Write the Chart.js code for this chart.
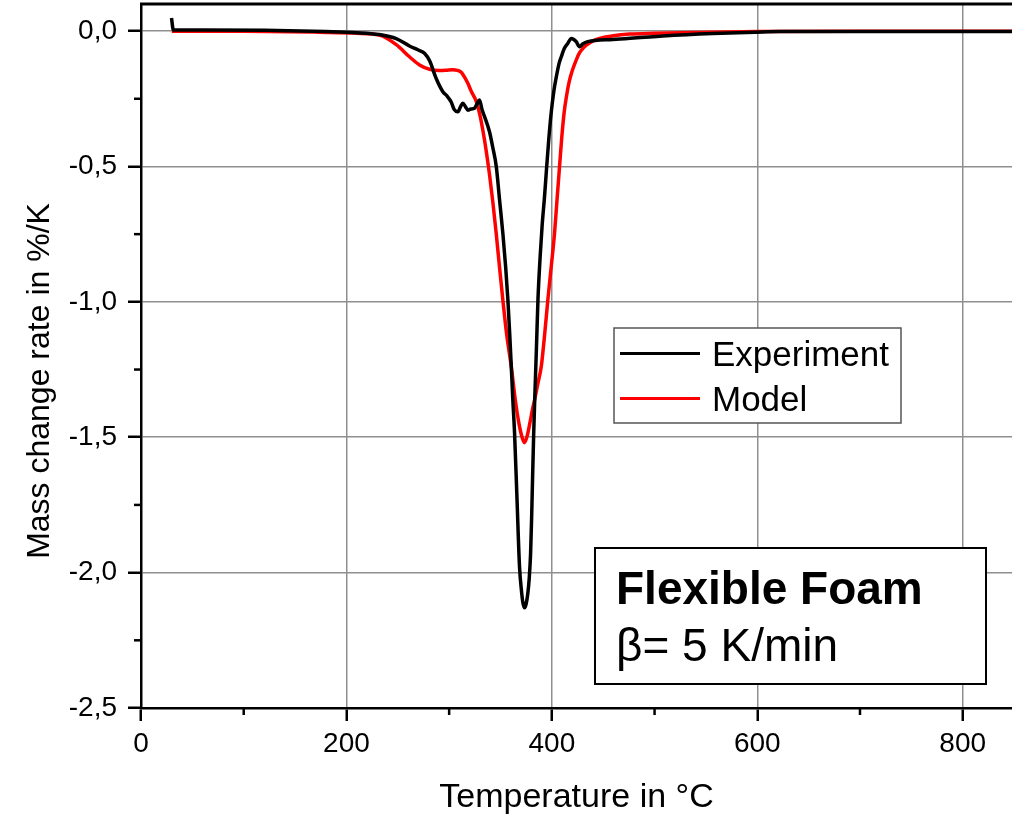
<!DOCTYPE html>
<html>
<head>
<meta charset="utf-8">
<script src="https://cdn.jsdelivr.net/npm/chart.js@4/dist/chart.umd.min.js"></script>
<style>
  html, body { margin: 0; padding: 0; background: #fff; overflow: hidden; }
  canvas { display: block; }
</style>
</head>
<body>
<canvas id="dtg-chart" width="1012" height="818"></canvas>
<script>
// Experiment (black) - temperature in degC / mass change rate in %/K
const expTemp = [29.7, 31.5, 60, 120, 180, 210, 232, 248.5, 261.4, 270, 276, 281, 287.4, 293.9, 298, 302, 305, 308.5, 311, 313.4, 316, 318.2, 321, 324.7, 327, 329.6, 332, 334.5, 339.3, 342.5, 345.9, 349, 352.3, 355, 357.2, 359, 360.5, 362, 363.7, 366, 368.5, 370.5, 372, 373.4, 375, 376.5, 378, 379.3, 380.3, 381.3, 382.3, 383.5, 385, 386.5, 388.5, 390.5, 392.9, 395, 397, 399.4, 402, 404.3, 407, 409.2, 412, 415.6, 418.9, 421, 423.7, 427, 430, 435, 459.4, 508, 556.8, 599, 622, 700, 800, 848];
const expRate = [0.048, 0.004, 0.004, 0.003, -0.002, -0.006, -0.013, -0.028, -0.055, -0.07, -0.082, -0.11, -0.175, -0.224, -0.24, -0.262, -0.29, -0.298, -0.28, -0.267, -0.28, -0.292, -0.288, -0.285, -0.27, -0.255, -0.29, -0.316, -0.372, -0.43, -0.5, -0.62, -0.747, -0.87, -0.993, -1.12, -1.239, -1.36, -1.485, -1.72, -1.977, -2.07, -2.115, -2.13, -2.115, -2.08, -2.02, -1.93, -1.8, -1.64, -1.49, -1.34, -1.17, -0.99, -0.84, -0.72, -0.61, -0.5, -0.4, -0.3, -0.22, -0.17, -0.12, -0.095, -0.065, -0.045, -0.027, -0.03, -0.039, -0.058, -0.048, -0.039, -0.031, -0.018, -0.009, -0.004, -0.002, -0.002, -0.002, -0.002];

// Model (red)
const modTemp = [30, 100, 180, 210, 232, 248.5, 261.4, 271.2, 280.9, 290.6, 297, 303.6, 308, 311.8, 315, 318.2, 321.5, 324.7, 326.4, 330, 333, 336, 339.3, 342.5, 345.9, 349, 352.3, 356, 360.5, 364.4, 368, 371, 373.4, 376, 378.5, 381, 383.2, 386.5, 389.7, 393, 396.1, 399.4, 402.6, 405, 407.5, 409.5, 412, 414.5, 417, 420, 423.7, 427, 430, 433.5, 440, 446.5, 460, 475.7, 500, 540, 600, 700, 848];
const modRate = [-0.001, -0.001, -0.005, -0.008, -0.015, -0.05, -0.095, -0.125, -0.141, -0.146, -0.145, -0.143, -0.145, -0.152, -0.17, -0.193, -0.222, -0.245, -0.26, -0.31, -0.37, -0.44, -0.53, -0.63, -0.75, -0.87, -0.993, -1.12, -1.239, -1.362, -1.45, -1.5, -1.52, -1.495, -1.45, -1.4, -1.362, -1.3, -1.239, -1.12, -0.993, -0.87, -0.747, -0.625, -0.5, -0.4, -0.3, -0.235, -0.185, -0.145, -0.107, -0.08, -0.065, -0.052, -0.036, -0.027, -0.017, -0.011, -0.008, -0.005, -0.002, -0.001, -0.001];

const xTicks = [0, 200, 400, 600, 800];
const xMinorTicks = [100, 300, 500, 700];
const yTicks = [0, -0.5, -1.0, -1.5, -2.0, -2.5];
const yMinorTicks = [-0.25, -0.75, -1.25, -1.75, -2.25];

const seriesNames = ["Experiment", "Model"];
const seriesColors = ["#000000", "#ff0000"];

const FONT = "'Liberation Sans', Arial, sans-serif";

function toPoints(xs, ys) {
  return xs.map((x, i) => ({ x: x, y: ys[i] }));
}

// frame top line, minor ticks, legend, label box and y title
const decorations = {
  id: "decorations",
  afterDraw(chart) {
    const { ctx, chartArea, scales } = chart;
    ctx.save();

    ctx.strokeStyle = "#000";
    ctx.lineWidth = 3;
    ctx.beginPath();
    ctx.moveTo(chartArea.left - 1, chartArea.top);
    ctx.lineTo(chartArea.right, chartArea.top);
    ctx.stroke();

    ctx.lineWidth = 2.5;
    xMinorTicks.forEach((v) => {
      const px = scales.x.getPixelForValue(v);
      ctx.beginPath();
      ctx.moveTo(px, chartArea.bottom);
      ctx.lineTo(px, chartArea.bottom + 7);
      ctx.stroke();
    });
    yMinorTicks.forEach((v) => {
      const py = scales.y.getPixelForValue(v);
      ctx.beginPath();
      ctx.moveTo(chartArea.left, py);
      ctx.lineTo(chartArea.left - 7, py);
      ctx.stroke();
    });

    // legend
    ctx.fillStyle = "#fff";
    ctx.fillRect(614, 328, 287, 95);
    ctx.strokeStyle = "#555";
    ctx.lineWidth = 1.5;
    ctx.strokeRect(614, 328, 287, 95);
    const rows = [366, 411];
    chart.data.datasets.forEach((ds, i) => {
      const ly = rows[i] - 12.5;
      ctx.strokeStyle = ds.borderColor;
      ctx.lineWidth = 3;
      ctx.beginPath();
      ctx.moveTo(620, ly);
      ctx.lineTo(700, ly);
      ctx.stroke();
      ctx.fillStyle = "#000";
      ctx.font = "35px " + FONT;
      ctx.textBaseline = "alphabetic";
      ctx.textAlign = "left";
      ctx.fillText(ds.label, 712, rows[i]);
    });

    // sample box
    ctx.fillStyle = "#fff";
    ctx.fillRect(595, 548, 391, 136);
    ctx.strokeStyle = "#000";
    ctx.lineWidth = 2;
    ctx.strokeRect(595, 548, 391, 136);
    ctx.fillStyle = "#000";
    ctx.font = "bold 46px " + FONT;
    ctx.fillText("Flexible Foam", 616, 604);
    ctx.font = "46px " + FONT;
    ctx.fillText("\u03B2= 5 K/min", 616, 661);

    // y axis title
    ctx.translate(40, 381);
    ctx.rotate(-Math.PI / 2);
    ctx.textAlign = "center";
    ctx.textBaseline = "middle";
    ctx.font = "32px " + FONT;
    ctx.fillText("Mass change rate in %/K", 0, 0);

    ctx.restore();
  },
};

const ctx = document.getElementById("dtg-chart").getContext("2d");
new Chart(ctx, {
  type: "line",
  data: {
    datasets: [
      {
        label: seriesNames[0],
        data: toPoints(expTemp, expRate),
        borderColor: seriesColors[0],
        borderWidth: 3.5,
        pointRadius: 0,
        cubicInterpolationMode: "monotone",
      },
      {
        label: seriesNames[1],
        data: toPoints(modTemp, modRate),
        borderColor: seriesColors[1],
        borderWidth: 3.5,
        pointRadius: 0,
        cubicInterpolationMode: "monotone",
      },
    ],
  },
  options: {
    responsive: false,
    animation: false,
    layout: { padding: { top: 4, right: 0, left: 0, bottom: 0 } },
    plugins: {
      legend: { display: false },
      tooltip: { enabled: false },
    },
    scales: {
      x: {
        type: "linear",
        min: 0,
        max: 848,
        afterBuildTicks: (scale) => {
          scale.ticks = xTicks.map((v) => ({ value: v }));
        },
        afterFit: (scale) => {
          scale.height = 110;
          scale.paddingLeft = 0;
          scale.paddingRight = 0;
        },
        grid: {
          color: "#8f8f8f",
          lineWidth: 1.5,
          tickColor: "#000",
          tickWidth: 2.5,
          tickLength: 13,
        },
        border: { color: "#000", width: 2.5 },
        ticks: {
          color: "#000",
          font: { family: FONT, size: 28 },
          padding: 6,
          maxRotation: 0,
        },
        title: {
          display: true,
          text: "Temperature in \u00B0C",
          color: "#000",
          font: { family: FONT, size: 34 },
          padding: { top: 0, bottom: 0 },
        },
      },
      y: {
        type: "linear",
        min: -2.5,
        max: 0.1,
        afterBuildTicks: (scale) => {
          scale.ticks = yTicks.map((v) => ({ value: v }));
        },
        afterFit: (scale) => {
          scale.width = 141;
          scale.paddingTop = 0;
          scale.paddingBottom = 0;
        },
        grid: {
          color: "#8f8f8f",
          lineWidth: 1.5,
          tickColor: "#000",
          tickWidth: 2.5,
          tickLength: 13,
        },
        border: { color: "#000", width: 2.5 },
        ticks: {
          color: "#000",
          font: { family: FONT, size: 28 },
          padding: 11,
          callback: (v) => v.toFixed(1).replace(".", ","),
        },
      },
    },
  },
  plugins: [decorations],
});
</script>
</body>
</html>
